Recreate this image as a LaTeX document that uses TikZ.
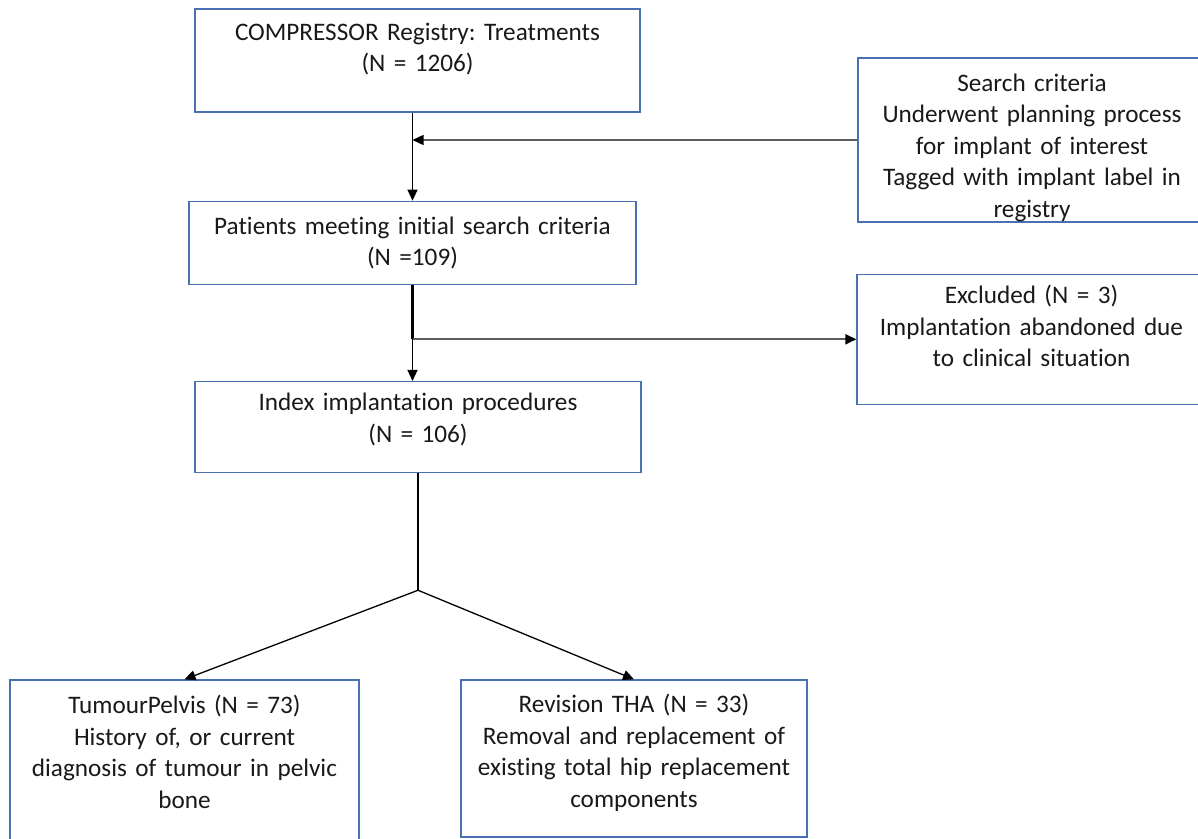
\documentclass[tikz,border=0pt]{standalone}
\usepackage{fontspec}
\setmainfont{Carlito}[Ligatures=NoCommon, WordSpace=0.8]
\frenchspacing
\usetikzlibrary{arrows.meta,positioning}
\definecolor{boxblue}{HTML}{4A70B4}
\definecolor{linegray}{HTML}{5C5C5C}
\tikzset{
  basic/.style  = {draw=boxblue, line width=1.3pt, rectangle, align=center,
                   text=black!90, inner xsep=8pt, inner ysep=0pt,
                   font=\fontsize{25.2}{31.5}\selectfont},
  stage/.style  = {basic, text width=430pt},
  side/.style   = {basic, text width=332pt},
  group/.style  = {basic, text width=331pt}
}

\begin{document}
\begin{tikzpicture}[x=1pt, y=-1pt, line width=1.3pt,
		>={Triangle[length=11pt,width=10pt,color=black]}]
	\useasboundingbox (0,0) rectangle (1198,838);

	% main column of the flow
	\node[stage, text width=429pt, minimum height=103pt] (reg) at (417.5,60.5)
	{COMPRESSOR Registry: Treatments\\(N = 1206)\\[-5pt]\mbox{}};
	\node[stage, text width=431pt, minimum height=83pt, below=88pt of reg, xshift=-5pt] (pat)
	{Patients meeting initial search criteria\\(N =109)};
	\node[stage, minimum height=91pt, below=96pt of pat, xshift=5.5pt] (idx)
	{Index implantation procedures\\(N = 106)\\[-13pt]\mbox{}};

	% boxes at the side
	\node[side, minimum height=164pt] (crit) at (1032,140)
	{\mbox{}\\[1.5pt]Search criteria\\Underwent planning process\\for implant of interest\\Tagged with implant label in\\registry};
	\node[side, text width=333pt, minimum height=130pt, below=51pt of crit, xshift=-0.5pt] (excl)
	{Excluded (N = 3)\\Implantation abandoned due\\to clinical situation\\[-5pt]\mbox{}};

	% the two groups at the bottom
	\node[group, text width=333pt, minimum height=162pt] (tum) at (184.5,761)
	{TumourPelvis (N = 73)\\History of, or current\\diagnosis of tumour in pelvic\\bone\\[-13.5pt]\mbox{}};
	\node[group, text width=330pt, minimum height=157pt] (rev) at (634,758.5)
	{Revision THA (N = 33)\\Removal and replacement of\\existing total hip replacement\\components\\[-16pt]\mbox{}};

	% arrows between the boxes
	\draw[->] (reg.south -| pat.north) -- (pat.north);
	\draw[->, draw=linegray] (crit.west) -- (crit.west -| pat.north);

	\coordinate (fork) at (pat.south |- excl.west);
	\draw[line width=2.6pt] (pat.south) -- (fork);
	\draw[->, draw=linegray, line width=2pt] (fork) -- (excl.west);
	\draw[->] (fork) -- (pat.south |- idx.north);

	% split into the two groups
	\coordinate[below=117pt of idx.south] (split);
	\draw (idx.south) -- (split);
	\foreach \value in {tum,rev}
		\draw[->] (split) -- (\value.north);

\end{tikzpicture}
\end{document}
